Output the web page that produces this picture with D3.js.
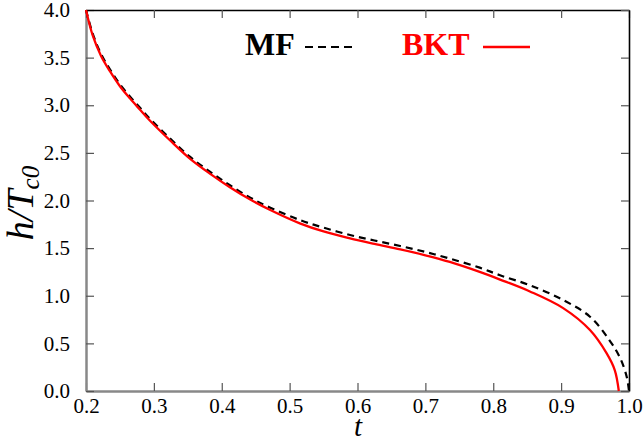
<!DOCTYPE html>
<html>
<head>
<meta charset="utf-8">
<script src="https://cdn.jsdelivr.net/npm/d3@7"></script>
<style>
  body { margin: 0; background: #fff; }
</style>
</head>
<body>
<div id="chart"></div>
<script>

// mean-field curve
var tMF = [0.200, 0.210, 0.222, 0.235, 0.250, 0.265, 0.280, 0.294, 0.324, 0.353, 0.383,
           0.412, 0.442, 0.470, 0.515, 0.550, 0.589, 0.625, 0.663, 0.700, 0.736,
           0.780, 0.810, 0.854, 0.903, 0.9425, 0.971, 0.9867, 0.9966, 1.000];
var hMF = [4.00, 3.75, 3.54, 3.38, 3.22, 3.09, 2.97, 2.86, 2.65, 2.46, 2.30,
           2.16, 2.03, 1.93, 1.795, 1.715, 1.638, 1.58, 1.522, 1.46, 1.39,
           1.295, 1.215, 1.11, 0.955, 0.78, 0.535, 0.35, 0.15, 0.00];

// BKT curve
var tBKT = [0.200, 0.210, 0.222, 0.235, 0.250, 0.265, 0.280, 0.294, 0.324, 0.353, 0.383,
            0.412, 0.442, 0.470, 0.515, 0.550, 0.589, 0.625, 0.663, 0.700, 0.736,
            0.780, 0.810, 0.854, 0.903, 0.9425, 0.9667, 0.979, 0.985];
var hBKT = [4.00, 3.73, 3.52, 3.36, 3.20, 3.07, 2.95, 2.84, 2.63, 2.44, 2.28,
            2.14, 2.01, 1.905, 1.76, 1.675, 1.603, 1.545, 1.487, 1.425, 1.355,
            1.25, 1.17, 1.045, 0.87, 0.64, 0.40, 0.22, 0.00];

var xTicks = [0.2, 0.3, 0.4, 0.5, 0.6, 0.7, 0.8, 0.9, 1.0];
var yTicks = [0.0, 0.5, 1.0, 1.5, 2.0, 2.5, 3.0, 3.5, 4.0];

/////////////////////////////////////////////////////////////////////

var serif = "'Liberation Serif', 'Times New Roman', serif";
var width = 643, height = 443;
var margin = {top: 10, right: 14, bottom: 52, left: 86};

var svg = d3.select("#chart").append("svg")
  .attr("width", width)
  .attr("height", height)
  .attr("font-family", serif);

var x = d3.scaleLinear().domain([0.2, 1.0]).range([margin.left, width - margin.right]);
var y = d3.scaleLinear().domain([0, 4]).range([height - margin.bottom, margin.top]);

// axes: bottom/left gray with labels, top/right black without
var gx = svg.append("g")
  .attr("transform", "translate(0," + y(0) + ")")
  .call(d3.axisBottom(x).tickValues(xTicks).tickFormat(d3.format(".1f"))
    .tickSizeInner(-8).tickSizeOuter(0).tickPadding(7));

var gy = svg.append("g")
  .attr("transform", "translate(" + x(0.2) + ",0)")
  .call(d3.axisLeft(y).tickValues(yTicks).tickFormat(d3.format(".1f"))
    .tickSizeInner(-8).tickSizeOuter(0).tickPadding(16));

var gt = svg.append("g")
  .attr("transform", "translate(0," + y(4) + ")")
  .call(d3.axisTop(x).tickValues(xTicks).tickFormat("")
    .tickSizeInner(-8).tickSizeOuter(0));

var gr = svg.append("g")
  .attr("transform", "translate(" + x(1.0) + ",0)")
  .call(d3.axisRight(y).tickValues(yTicks).tickFormat("")
    .tickSizeInner(-8).tickSizeOuter(0));

[gx, gy].forEach(function(g) {
  g.attr("font-family", serif).attr("font-size", 21);
  g.select(".domain").attr("stroke", "#888").attr("stroke-width", 2.5);
  g.selectAll(".tick line").attr("stroke", "#555").attr("stroke-width", 1.2);
  g.selectAll(".tick text").attr("fill", "#000");
});
[gt, gr].forEach(function(g) {
  g.select(".domain").attr("stroke", "#000").attr("stroke-width", 1.6);
  g.selectAll(".tick line").attr("stroke", "#555").attr("stroke-width", 1.2);
});

// curves
var line = d3.line()
  .x(function(d) { return x(d[0]); })
  .y(function(d) { return y(d[1]); })
  .curve(d3.curveCatmullRom.alpha(0.5));

var mf = tMF.map(function(t, i) { return [t, hMF[i]]; });
var bkt = tBKT.map(function(t, i) { return [t, hBKT[i]]; });

svg.append("path")
  .attr("d", line(mf))
  .attr("fill", "none")
  .attr("stroke", "#000")
  .attr("stroke-width", 2.2)
  .attr("stroke-dasharray", "7,5");

svg.append("path")
  .attr("d", line(bkt))
  .attr("fill", "none")
  .attr("stroke", "#ff0000")
  .attr("stroke-width", 2.3);

// legend
svg.append("text")
  .attr("x", 245).attr("y", 55)
  .attr("font-size", "32px").attr("font-weight", "bold")
  .attr("fill", "#000")
  .text("MF");
svg.append("line")
  .attr("x1", 305).attr("x2", 352).attr("y1", 47).attr("y2", 47)
  .attr("stroke", "#000").attr("stroke-width", 2.2)
  .attr("stroke-dasharray", "8,5");

svg.append("text")
  .attr("x", 402).attr("y", 55)
  .attr("font-size", "32px").attr("font-weight", "bold")
  .attr("fill", "#ff0000")
  .text("BKT");
svg.append("line")
  .attr("x1", 483).attr("x2", 530).attr("y1", 47).attr("y2", 47)
  .attr("stroke", "#ff0000").attr("stroke-width", 2.3);

// axis titles
svg.append("text")
  .attr("x", 358).attr("y", 436)
  .attr("text-anchor", "middle")
  .attr("font-size", "29px").attr("font-style", "italic")
  .text("t");

var ylab = svg.append("text")
  .attr("transform", "translate(33,203) rotate(-90)")
  .attr("text-anchor", "middle")
  .attr("font-size", "38px").attr("font-style", "italic");
ylab.append("tspan").text("h/T");
ylab.append("tspan").attr("font-size", "25px").attr("dy", 6).text("c0");

</script>
</body>
</html>
